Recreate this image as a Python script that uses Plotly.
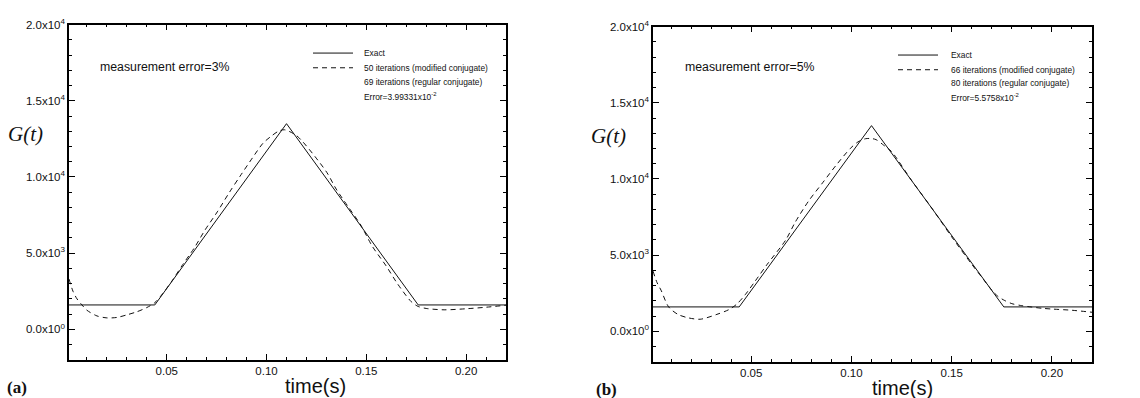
import plotly.graph_objects as go

W, H = 1140, 398

# ---------------- data ----------------
t_exact = [0.001, 0.044, 0.110, 0.176, 0.220]
g_exact = [1600, 1600, 13500, 1600, 1600]

# panel (a): 3% measurement error, 50 iterations (modified conjugate)
t_a = [0.001, 0.003, 0.005, 0.0075, 0.010, 0.015, 0.020, 0.025, 0.030, 0.035,
       0.040, 0.044, 0.048, 0.053, 0.058, 0.0638, 0.0692, 0.0753, 0.0814, 0.0868,
       0.0929, 0.0982, 0.1020, 0.1059, 0.1090, 0.1147, 0.1181, 0.1242, 0.1303, 0.1349,
       0.1410, 0.1472, 0.1530, 0.1600, 0.1656, 0.1725, 0.1760, 0.1800, 0.1890, 0.2000,
       0.2100, 0.2200]
g_a = [3300, 2500, 2000, 1600, 1250, 880, 750, 780, 950, 1150,
       1430, 1750, 2350, 3250, 4250, 5346, 6526, 7706, 8994, 10066,
       11247, 12212, 12642, 13000, 13100, 12750, 12320, 11354, 10281, 9208,
       8028, 6848, 5450, 4150, 2995, 1815, 1500, 1370, 1280, 1350,
       1450, 1580]

# panel (b): 5% measurement error, 66 iterations (modified conjugate)
t_b = [0.001, 0.003, 0.005, 0.0088, 0.0134, 0.018, 0.0245, 0.0329, 0.039, 0.0429,
       0.047, 0.052, 0.058, 0.0672, 0.0719, 0.0787, 0.0856, 0.0925, 0.0994, 0.1032,
       0.1070, 0.1100, 0.1123, 0.1161, 0.120, 0.130, 0.140, 0.150, 0.160, 0.165,
       0.170, 0.173, 0.176, 0.180, 0.185, 0.190, 0.195, 0.200, 0.210, 0.220]
g_b = [3950, 3200, 2700, 1600, 1111, 900, 790, 1111, 1432, 1795,
       2400, 3300, 4400, 5989, 7150, 8564, 9745, 10925, 11998, 12427,
       12640, 12650, 12580, 12212, 11800, 9900, 8100, 6200, 4400, 3550,
       2700, 2300, 2050, 1815, 1680, 1590, 1510, 1460, 1380, 1250]

y_tickvals = [0, 5000, 10000, 15000, 20000]
y_ticktext = ["0.0x10<sup>0</sup>", "5.0x10<sup>3</sup>", "1.0x10<sup>4</sup>",
              "1.5x10<sup>4</sup>", "2.0x10<sup>4</sup>"]

panel_labels = ["(a)", "(b)"]
notes = ["measurement error=3%", "measurement error=5%"]
legend_texts = [
    ["Exact", "50 iterations (modified conjugate)", "69 iterations (regular conjugate)",
     "Error=3.99331x10<sup>-2</sup>"],
    ["Exact", "66 iterations (modified conjugate)", "80 iterations (regular conjugate)",
     "Error=5.5758x10<sup>-2</sup>"],
]

# ---------------- figure ----------------
fig = go.Figure()
LINE = "#111111"

for i, (tt, gg) in enumerate([(t_a, g_a), (t_b, g_b)]):
    xa = "x" if i == 0 else "x2"
    ya = "y" if i == 0 else "y2"
    fig.add_trace(go.Scatter(x=t_exact, y=g_exact, mode="lines", xaxis=xa, yaxis=ya,
                             line=dict(color=LINE, width=1), showlegend=False))
    fig.add_trace(go.Scatter(x=tt, y=gg, mode="lines", xaxis=xa, yaxis=ya,
                             line=dict(color=LINE, width=1, dash="5px,4px", shape="spline",
                                       smoothing=0.8),
                             showlegend=False))

tickfont = dict(family="Arial, Liberation Sans, sans-serif", size=11.5, color="#111")

def xaxis(domain, anchor):
    return dict(domain=domain, anchor=anchor, range=[0.001, 0.22], tick0=0, dtick=0.05,
                tickformat=".2f", ticks="inside", ticklen=6, tickwidth=1, tickcolor="black",
                showline=True, linecolor="black", linewidth=1.5, mirror="ticks",
                showgrid=False, zeroline=False, tickfont=tickfont,
                minor=dict(tickmode="linear", tick0=0, dtick=0.01, ticks="inside",
                           ticklen=3, tickcolor="black", showgrid=False))

def yaxis(domain, anchor):
    return dict(domain=domain, anchor=anchor, range=[-2000, 20000], tickmode="array",
                tickvals=y_tickvals, ticktext=y_ticktext, ticks="inside", ticklen=6,
                tickwidth=1, tickcolor="black", showline=True, linecolor="black",
                linewidth=1.5, mirror="ticks", showgrid=False, zeroline=False,
                tickfont=tickfont,
                minor=dict(tickmode="linear", tick0=0, dtick=1000, ticks="inside",
                           ticklen=3, tickcolor="black", showgrid=False))

def px(x, y):
    return x / W, 1 - y / H

fig.update_layout(
    width=W, height=H, margin=dict(l=0, r=0, t=0, b=0),
    paper_bgcolor="white", plot_bgcolor="white", showlegend=False,
    xaxis=xaxis([69 / W, 506 / W], "y"),
    yaxis=yaxis([1 - 359 / H, 1 - 17 / H], "x"),
    xaxis2=xaxis([653 / W, 1092 / W], "y2"),
    yaxis2=yaxis([1 - 361 / H, 1 - 19 / H], "x2"),
)

annotations = []
shapes = []
panel_px = [
    dict(G=(25, 129), time=(316, 386), lab=(17, 387), note=(98, 60),
         leg_line=(313, 353), leg_text=362, leg_y=[46, 61, 76, 90]),
    dict(G=(608, 131), time=(902, 388), lab=(606, 389), note=(683, 60),
         leg_line=(898, 938), leg_text=949, leg_y=[48, 63, 77, 91]),
]
for i, p in enumerate(panel_px):
    x, y = px(*p["G"])
    annotations.append(dict(x=x, y=y, xref="paper", yref="paper", text="<i>G(t)</i>",
                            showarrow=False, xanchor="center", yanchor="middle",
                            font=dict(family="Times New Roman, Liberation Serif, serif",
                                      size=21, color="#111")))
    x, y = px(*p["time"])
    annotations.append(dict(x=x, y=y, xref="paper", yref="paper", text="time(s)",
                            showarrow=False, xanchor="center", yanchor="middle",
                            font=dict(family="Arial, Liberation Sans, sans-serif",
                                      size=20, color="#111")))
    x, y = px(*p["lab"])
    annotations.append(dict(x=x, y=y, xref="paper", yref="paper",
                            text="<b>" + panel_labels[i] + "</b>",
                            showarrow=False, xanchor="center", yanchor="middle",
                            font=dict(family="Times New Roman, Liberation Serif, serif",
                                      size=17, color="#111")))
    x, y = px(*p["note"])
    annotations.append(dict(x=x, y=y, xref="paper", yref="paper", text=notes[i],
                            showarrow=False, xanchor="left", yanchor="middle",
                            font=dict(family="Arial, Liberation Sans, sans-serif",
                                      size=12.3, color="#111")))
    for k, txt in enumerate(legend_texts[i]):
        x, y = px(p["leg_text"], p["leg_y"][k])
        annotations.append(dict(x=x, y=y, xref="paper", yref="paper", text=txt,
                                showarrow=False, xanchor="left", yanchor="middle",
                                font=dict(family="Arial, Liberation Sans, sans-serif",
                                          size=8.4, color="#111")))
    for k, dash in enumerate(["solid", "5px,4px"]):
        x0, y0 = px(p["leg_line"][0], p["leg_y"][k])
        x1, _ = px(p["leg_line"][1], p["leg_y"][k])
        shapes.append(dict(type="line", xref="paper", yref="paper", x0=x0, x1=x1,
                           y0=y0, y1=y0, line=dict(color=LINE, width=1, dash=dash)))

fig.update_layout(annotations=annotations, shapes=shapes)
fig.write_html("out.html")
